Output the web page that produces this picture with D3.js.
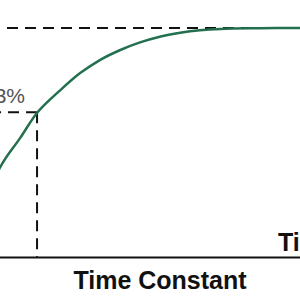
<!DOCTYPE html>
<html lang="en">
  <head>
    <meta charset="UTF-8" />
    <title>Time Constant</title>
    <script src="https://d3js.org/d3.v7.min.js"></script>
    <style>
      body {
        margin: 0;
        background: #fff;
      }
      #chart svg {
        display: block;
      }
    </style>
  </head>
  <body>
    <div id="chart"></div>

    <script>
      // time in units of tau, charge in percent
      const times = [0, 0.49, 0.77, 1.01, 1.32, 1.59, 1.86, 2.14, 2.41, 2.68, 2.96, 3.23, 3.51, 4.05, 4.6];
      const charge = [0, 38.9, 52.0, 63.3, 72.9, 80.3, 86.0, 90.4, 93.7, 96.2, 97.9, 99.0, 99.6, 99.9, 100];

      const tauMark = 1;
      const tauLevel = 63.2;
      const fullLevel = 100;
      const levelLabel = "63%";
      const axisLabel = "Time";
      const titleLabel = "Time Constant";

      const width = 300;
      const height = 300;

      const svg = d3
        .select("#chart")
        .append("svg")
        .attr("width", width)
        .attr("height", height)
        .style("font-family", "'Liberation Sans', Arial, sans-serif");

      const x = d3.scaleLinear().domain([0, 4.6]).range([-36, 300]);
      const y = d3.scaleLinear().domain([0, 100]).range([257, 28]);

      const dash = "11,7";

      // full charge reference line
      svg
        .append("line")
        .attr("x1", 7)
        .attr("x2", width)
        .attr("y1", y(fullLevel))
        .attr("y2", y(fullLevel))
        .attr("stroke", "#111")
        .attr("stroke-width", 2)
        .attr("stroke-dasharray", dash);

      // 63% level, drawn from the curve back to the left edge
      svg
        .append("line")
        .attr("x1", x(tauMark))
        .attr("x2", 0)
        .attr("y1", y(tauLevel))
        .attr("y2", y(tauLevel))
        .attr("stroke", "#111")
        .attr("stroke-width", 2)
        .attr("stroke-dasharray", dash);

      svg
        .append("line")
        .attr("x1", x(tauMark))
        .attr("x2", x(tauMark))
        .attr("y1", y(tauLevel))
        .attr("y2", y(0))
        .attr("stroke", "#111")
        .attr("stroke-width", 2)
        .attr("stroke-dasharray", dash);

      // time axis
      const axis = svg
        .append("g")
        .attr("transform", `translate(0,${y(0)})`)
        .call(d3.axisBottom(x).tickValues([]).tickSizeOuter(0));
      axis.select(".domain").attr("stroke", "#111").attr("stroke-width", 2);

      // charging curve
      const pts = times.map((t, i) => [t, charge[i]]);
      const line = d3
        .line()
        .x((d) => x(d[0]))
        .y((d) => y(d[1]))
        .curve(d3.curveCatmullRom.alpha(0.5));

      svg
        .append("path")
        .datum(pts)
        .attr("d", line)
        .attr("fill", "none")
        .attr("stroke", "#23704f")
        .attr("stroke-width", 2.5);

      svg
        .append("text")
        .attr("x", 25)
        .attr("y", 103)
        .attr("text-anchor", "end")
        .style("font-size", "21px")
        .style("fill", "#555")
        .text(levelLabel);

      svg
        .append("text")
        .attr("x", 278)
        .attr("y", 251)
        .style("font-size", "25px")
        .style("font-weight", "bold")
        .style("fill", "#111")
        .text(axisLabel);

      svg
        .append("text")
        .attr("x", 160)
        .attr("y", 289)
        .attr("text-anchor", "middle")
        .style("font-size", "25px")
        .style("font-weight", "bold")
        .style("fill", "#111")
        .text(titleLabel);
    </script>
  </body>
</html>
